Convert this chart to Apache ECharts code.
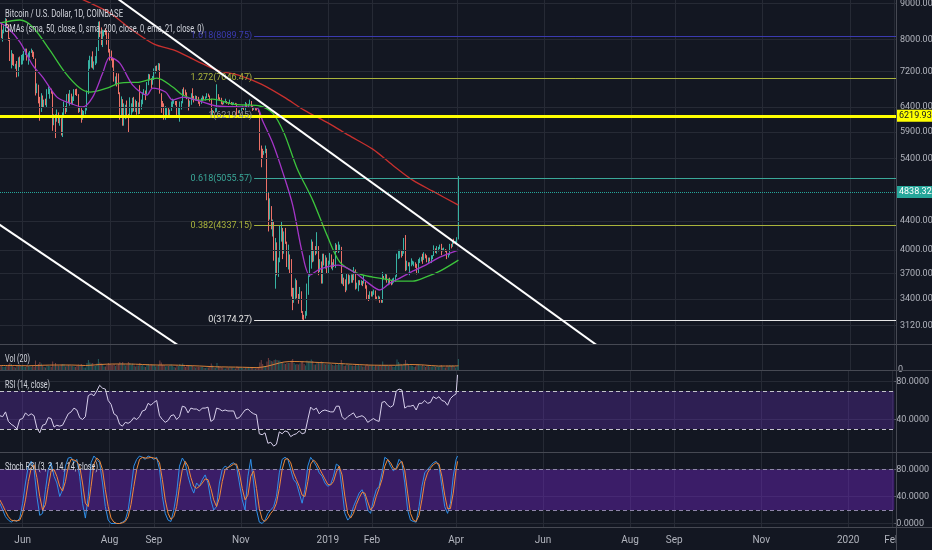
<!DOCTYPE html>
<html>
<head>
<meta charset="utf-8">
<script src="https://cdn.jsdelivr.net/npm/echarts@6.0.0/dist/echarts.min.js"></script>
<style>
html,body{margin:0;padding:0;background:#131722;overflow:hidden;}
#chart{width:932px;height:550px;}
</style>
</head>
<body>
<div id="chart"></div>
<script>
// ================= DATA =================
const startDate = '2018-05-16';   // first daily candle; one candle per day after it
const firstOpen = 8470;

const closes = [
 8350,8060,8240,8240,8520,8400,7990,7510,7590,7460,7350,7360,7120,7480,7390,7500,
 7530,7640,7720,7500,7620,7660,7690,7620,7510,6770,6880,6550,6310,6640,6400,6490,6450,6710,6740,6760,6720,6050,6170,6150,6250,6090,6140,5880,6200,6390,
 6360,6620,6510,6590,6530,6600,6760,6710,6670,6300,6380,6240,6240,6270,6350,6730,7320,7380,7470,7330,7400,7400,7720,8400,8170,7940,8190,8230,8210,8170,7730,
 7600,7530,7410,7010,7040,6940,6720,6280,6540,6150,6240,6320,6250,6190,6270,6310,6580,6390,6490,6260,6470,6360,6530,6690,6740,6700,6910,7080,7030,6980,7030,
 7190,7270,7260,7360,6700,6510,6410,6190,6250,6310,6280,6330,6490,6490,6520,6500,6250,6340,6390,6490,6760,6710,6700,6580,6430,6460,6680,6630,6600,6630,
 6590,6500,6480,6580,6630,6580,6600,6680,6650,6580,6250,6310,6300,6310,6640,6600,6570,6490,6470,6500,6510,6500,6480,6500,6470,6470,6480,6470,6300,6290,6320,
 6370,6400,6370,6470,6410,6450,6530,6420,6340,6380,6360,6350,6300,5620,5570,5500,5510,5580,4800,4450,4600,4300,4350,3930,4000,3750,3860,4250,4270,3970,
 4200,4100,3830,3920,3720,3440,3360,3420,3560,3440,3390,3490,3260,3200,3190,3220,3520,3670,3760,4100,3860,4000,3950,4040,3760,3830,3600,3880,3800,3900,3740,
 3840,3940,3780,3820,3790,4040,3990,4000,4010,3630,3630,3610,3500,3660,3580,3640,3680,3620,3720,3560,3560,3600,3580,3600,3590,3590,3550,3440,3410,3470,3440,
 3470,3500,3410,3400,3420,3380,3370,3660,3650,3690,3600,3610,3590,3570,3590,3620,3670,3910,3920,3990,3930,3980,4140,3740,3830,3810,3820,3820,
 3830,3840,3800,3710,3860,3870,3880,3870,3950,3930,3870,3890,3870,3880,3920,4020,3990,3990,4030,4060,3990,4000,4010,3990,3920,3940,4070,4050,4120,4110,4110,
 4150,4838.32
];
const highs = [
 8480,8460,8260,8380,8580,8560,8400,8040,7720,7640,7620,7380,7450,7540,7560,7600,
 7620,7700,7760,7760,7660,7700,7760,7720,7680,7510,6920,6890,6620,6700,6650,6560,6580,6790,6850,6800,6800,6730,6250,6250,6350,6290,6190,6170,6290,6520,
 6420,6680,6690,6770,6690,6630,6790,6790,6800,6680,6400,6380,6340,6320,6400,6760,7470,7580,7560,7690,7440,7570,7800,8480,8490,8320,8260,8240,8300,8250,8180,
 7750,7710,7530,7500,7080,7160,7150,6720,6630,6570,6480,6450,6540,6260,6610,6480,6600,6620,6560,6530,6500,6880,6560,6720,6790,6760,6950,7140,7130,7040,7090,
 7270,7330,7340,7400,7390,6700,6530,6480,6420,6380,6400,6350,6520,6580,6560,6530,6530,6400,6520,6530,6790,6830,6780,6720,6580,6540,6700,6810,6640,6650,
 6640,6620,6520,6600,6650,6630,6630,6700,6690,6650,6580,6340,6320,6380,6900,6680,6610,6600,6500,6520,6580,6530,6500,6560,6510,6500,6500,6490,6480,6330,6340,
 6390,6430,6400,6510,6480,6470,6560,6530,6430,6400,6390,6380,6360,6310,5640,5580,5540,5640,5580,4840,4740,4620,4420,4390,4160,4100,3900,4340,4400,4300,
 4250,4300,4110,4070,3940,3880,3530,3530,3640,3620,3460,3540,3490,3270,3230,3270,3580,3680,3930,4140,4110,4000,4050,4240,4050,3880,3850,3950,3950,3930,3900,
 3860,3960,3940,3840,3880,4090,4070,4110,4070,4040,3700,3650,3630,3700,3690,3680,3690,3690,3780,3750,3590,3620,3620,3620,3610,3680,3600,3560,3450,3490,3490,
 3490,3510,3500,3430,3440,3430,3400,3720,3670,3700,3690,3640,3650,3610,3640,3650,3680,3950,4000,4000,4000,3990,4160,4200,3860,3840,3840,3890,
 3860,3850,3840,3820,3880,3900,3910,3950,3970,3950,3930,3900,3900,3930,3930,4060,4020,4050,4040,4070,4080,4020,4030,4010,4000,3950,4080,4080,4130,4150,4120,
 4170,5100
];
const lows = [
 8150,8030,7940,8160,8200,8330,7960,7450,7270,7350,7330,7260,7060,7080,7300,7360,
 7370,7460,7600,7460,7360,7530,7650,7550,7500,6650,6700,6480,6120,6300,6380,6400,6440,6400,6680,6580,6690,5920,6030,5780,6100,6070,6020,5830,5800,6190,
 6260,6300,6480,6430,6460,6450,6530,6660,6640,6280,6300,6080,6140,6190,6250,6330,6680,7260,7290,7270,7240,7350,7390,7700,8060,7850,7800,8080,8120,7860,7660,
 7460,7460,7290,6960,6880,6850,6680,6140,6220,6020,6020,6150,6170,5880,6180,6240,6290,6310,6300,6240,6250,6260,6350,6460,6670,6550,6670,6880,6990,6810,6890,
 7000,7150,7200,7230,6690,6280,6380,6140,6140,6230,6200,6180,6320,6400,6470,6440,6210,6240,6100,6350,6480,6650,6650,6570,6330,6410,6450,6550,6500,6540,
 6540,6470,6420,6470,6530,6560,6540,6590,6620,6520,6180,6230,6280,6290,6300,6560,6530,6460,6450,6460,6490,6470,6450,6470,6450,6440,6460,6460,6240,6270,6270,
 6320,6360,6340,6330,6400,6400,6450,6400,6320,6340,6330,6330,6290,5550,5250,5400,5470,5500,4710,4250,4420,4280,4180,3860,3520,3680,3660,3840,4110,3880,
 3950,4080,3780,3750,3700,3430,3280,3360,3400,3410,3350,3390,3250,3180,3174,3190,3220,3450,3660,3760,3840,3850,3930,3950,3680,3720,3580,3580,3800,3760,3700,
 3700,3810,3760,3740,3780,3770,3970,3960,3980,3580,3570,3550,3480,3500,3570,3580,3590,3590,3620,3510,3520,3490,3560,3560,3550,3580,3520,3400,3380,3400,3430,
 3430,3450,3390,3390,3390,3360,3360,3360,3630,3620,3590,3560,3570,3560,3570,3590,3600,3660,3880,3890,3900,3920,3950,3730,3740,3790,3680,3790,
 3810,3790,3770,3690,3700,3830,3850,3820,3870,3890,3840,3820,3850,3830,3880,3920,3960,3950,3980,4010,3930,3980,3990,3970,3880,3900,3930,4020,4040,4080,4090,
 4090,4140
];
// daily volume (thousand BTC)
const volumes = [
 9,10,7,6,7,8,11,14,12,9,6,5,9,10,9,8,
 8,6,6,8,8,7,6,8,6,19,9,12,16,13,10,6,5,9,8,8,6,17,8,14,9,9,8,11,12,12,
 7,9,10,9,9,8,7,6,8,11,8,12,8,5,5,14,20,15,13,14,8,8,13,22,15,13,11,7,7,10,14,
 12,10,10,12,8,10,12,16,14,16,12,9,11,16,14,10,13,9,7,9,9,14,9,10,7,6,11,12,10,11,10,
 10,7,8,10,19,15,10,10,7,8,8,9,11,8,6,5,9,8,12,8,13,9,6,8,9,8,8,9,6,5,
 6,6,6,6,6,4,4,5,5,6,13,9,4,4,14,8,6,6,5,3,3,5,5,5,5,5,3,3,7,6,5,
 5,4,3,4,4,5,6,5,5,3,3,4,5,15,20,12,8,8,17,24,20,18,17,20,21,20,19,19,16,15,
 13,12,14,14,14,19,22,14,11,12,11,13,16,17,12,9,19,17,18,21,18,11,11,16,15,14,17,16,12,11,12,
 11,12,12,10,9,12,10,14,11,20,13,8,9,12,10,11,9,9,8,12,9,11,9,9,7,7,9,12,9,10,9,
 9,7,9,8,8,10,9,17,10,9,10,9,9,8,7,6,9,21,16,13,11,10,13,20,14,10,9,9,
 8,6,7,11,11,9,8,10,8,6,8,8,7,7,7,8,6,8,7,8,10,7,5,5,9,7,10,8,10,8,5,
 8,22
];
const volMA = [['2018-05-16',9],['2018-05-26',9],['2018-06-05',8.5],['2018-06-15',9.5],['2018-06-25',10],['2018-07-05',10],['2018-07-15',9],['2018-07-25',11],['2018-08-04',12],['2018-08-14',12],['2018-08-24',11],['2018-09-03',10],['2018-09-13',10],['2018-09-23',9],['2018-10-03',8],['2018-10-13',6.5],['2018-10-23',6],['2018-11-02',5.5],['2018-11-12',4.8],['2018-11-19',7.5],['2018-11-25',12],['2018-12-01',16],['2018-12-08',17],['2018-12-15',16.5],['2018-12-22',15.5],['2018-12-29',14.5],['2019-01-08',13],['2019-01-18',11.5],['2019-01-28',10],['2019-02-07',9.5],['2019-02-17',9.5],['2019-02-27',11],['2019-03-09',10],['2019-03-19',8],['2019-03-29',8],['2019-04-02',8.5]];

// moving averages
const sma50 = [['2018-05-16',8443],['2018-05-30',8527],['2018-06-08',8333],['2018-06-20',7722],['2018-07-01',7159],['2018-07-11',6815],['2018-07-18',6726],['2018-07-30',6815],['2018-08-08',6928],['2018-08-22',6951],['2018-09-03',7043],['2018-09-14',6838],['2018-09-21',6660],['2018-10-03',6551],['2018-10-12',6573],['2018-10-26',6466],['2018-11-04',6445],['2018-11-14',6424],['2018-11-23',6276],['2018-12-01',5874],['2018-12-10',5235],['2018-12-21',4712],['2018-12-31',4199],['2019-01-09',3842],['2019-01-21',3705],['2019-02-01',3657],['2019-02-10',3633],['2019-02-18',3609],['2019-03-01',3609],['2019-03-10',3657],['2019-03-20',3729],['2019-04-02',3867]];
const sma200 = [['2018-06-10',9800],['2018-07-01',9370],['2018-07-15',9080],['2018-08-01',8727],['2018-08-15',8300],['2018-09-01',7876],['2018-09-15',7722],['2018-10-01',7447],['2018-10-15',7230],['2018-11-01',7090],['2018-11-15',6904],['2018-12-01',6615],['2018-12-15',6338],['2019-01-01',6071],['2019-01-15',5836],['2019-02-01',5573],['2019-02-15',5287],['2019-03-01',5032],['2019-03-15',4853],['2019-04-02',4635]];
const ema21 = [['2018-05-16',8450],['2018-05-21',8333],['2018-05-30',7935],['2018-06-08',7349],['2018-06-15',7065],['2018-06-25',6615],['2018-07-04',6487],['2018-07-13',6403],['2018-07-20',6615],['2018-07-27',7159],['2018-08-01',7546],['2018-08-08',7398],['2018-08-17',6882],['2018-08-27',6660],['2018-08-31',6815],['2018-09-09',6726],['2018-09-14',6551],['2018-09-21',6615],['2018-10-03',6529],['2018-10-15',6424],['2018-11-02',6403],['2018-11-12',6382],['2018-11-16',6114],['2018-11-23',5685],['2018-11-30',5167],['2018-12-07',4635],['2018-12-14',3933],['2018-12-19',3681],['2018-12-26',3755],['2019-01-08',3804],['2019-01-20',3705],['2019-01-29',3585],['2019-02-06',3505],['2019-02-13',3585],['2019-02-20',3645],['2019-03-01',3729],['2019-03-10',3804],['2019-03-20',3906],['2019-04-02',3998]];

// oscillators, one reading every second candle (plus the last candle)
const rsiValues = [
 44,43,48,38,35,33,30,40,41,47, 44,46,44,31,26,34,35,42,41,32, 34,33,34,40,46,48,52,50,42,40, 43,65,67,65,70,76,73,72,60,56,
 46,44,35,33,37,36,38,42,40,43, 49,50,57,55,58,60,44,40,37,39, 44,45,40,43,54,53,47,52,51,51, 49,52,52,53,38,40,52,51,49,50,
 49,49,49,41,42,46,50,51,48,46, 45,25,24,26,15,16,12,14,27,25, 28,27,22,24,25,28,25,26,40,53, 50,52,46,49,50,49,48,48,54,54,
 43,40,43,45,47,42,43,44,42,37, 39,41,39,38,58,59,55,53,55,70, 72,71,52,54,54,55,50,57,57,60, 57,58,64,62,64,60,59,55,62,65,
 67,87
];
const stochK = [
 30,20,10,5,2,5,3,8,30,60, 85,92,80,40,12,15,50,80,90,70, 60,40,50,85,97,98,90,95,70,30, 8,40,90,100,95,90,60,25,5,0,
 0,0,0,2,5,20,50,85,95,100, 98,95,100,98,95,98,80,40,15,5, 3,20,45,85,97,90,70,55,45,60, 55,65,72,60,35,20,25,60,80,85,
 82,88,90,85,60,35,20,70,95,60, 20,2,0,5,15,20,25,40,75,95, 98,95,80,65,60,45,30,50,85,98, 92,85,75,70,60,55,58,70,88,85,
 50,15,5,10,25,35,45,50,40,20, 15,35,50,55,75,98,95,85,78,82, 95,90,60,20,5,3,2,25,55,75, 80,85,90,92,85,55,25,15,30,70,
 95,100
];
const stochD = [
 35,27,18,10,5,4,4,5,15,35, 62,82,87,68,40,20,28,55,78,80, 70,55,48,62,85,95,94,92,85,60, 30,25,55,88,97,93,80,50,25,8,
 2,0,0,1,3,10,28,55,80,95, 98,97,97,98,97,96,90,65,35,15, 6,10,25,55,80,92,85,68,55,52, 55,60,66,65,52,35,25,38,62,80,
 83,85,88,88,75,52,35,42,70,78, 52,22,6,3,8,15,20,30,52,80, 95,96,90,75,65,55,42,40,62,88, 94,90,82,74,66,58,57,62,76,85,
 72,40,15,8,15,28,38,46,45,32, 20,25,40,52,65,85,95,90,82,80, 88,92,78,45,15,5,3,12,35,62, 75,82,87,90,88,70,42,22,22,45,
 80,92
];

// drawings
const upperTrend = [['2018-07-29', 9414], ['2019-07-17', 2833]];
const lowerTrend = [['2018-05-09', 4441], ['2018-09-26', 2847]];
const fibStart = '2018-11-10';
const fibLevels = ['1.618', '1.272', '1', '0.618', '0.382', '0'];
const fibPrices = [8089.75, 7046.47, 6219.45, 5055.57, 4337.15, 3174.27];
const horizLevel = 6219.93;
const lastPrice = 4838.32;

// axis ticks / labels
const priceTicks = [3120, 3400, 3700, 4000, 4400, 5400, 5900, 6400, 7200, 8000, 9000];
const xTickDates = ['2018-06-01','2018-08-01','2018-09-01','2018-11-01','2019-01-01','2019-02-01','2019-04-01','2019-06-01','2019-08-01','2019-09-01','2019-11-01','2020-01-01','2020-02-01'];
const xTickLabels = ['Jun','Aug','Sep','Nov','2019','Feb','Apr','Jun','Aug','Sep','Nov','2020','Feb'];
const rsiTicks = [40, 80];
const stochTicks = [0, 40, 80];

// ================= CHART =================
const FONT = 'Roboto';
const BG = '#131722', GRIDC = '#262a35', SEP = '#464953', TXT = '#b2b5be';
const UP = '#37b2a3', DOWN = '#ec7167';

const utc = s => { const p = s.split('-').map(Number); return Date.UTC(p[0], p[1] - 1, p[2]); };
const DAY = 864e5;
const t0 = utc(startDate);
const dates = closes.map((_, i) => t0 + i * DAY);
const xMin = t0 + 3 * 3600e3;
const xMax = utc('2020-02-02') + 7 * 3600e3;
const openOf = i => (i === 0 ? firstOpen : closes[i - 1]);

const candleData = dates.map((t, i) => [t, openOf(i), closes[i], lows[i], highs[i]]);
const volData = dates.map((t, i) => ({ value: [t, volumes[i]], itemStyle: { color: closes[i] >= openOf(i) ? 'rgba(55,178,163,0.45)' : 'rgba(236,113,103,0.45)' } }));
const sampleIdx = i => Math.min(2 * i, dates.length - 1);
const rsiData = rsiValues.map((v, i) => [dates[sampleIdx(i)], v]);
const kData = stochK.map((v, i) => [dates[sampleIdx(i)], v]);
const dData = stochD.map((v, i) => [dates[sampleIdx(i)], v]);
const toXY = arr => arr.map(p => [utc(p[0]), p[1]]);

const xTicks = xTickDates.map(utc);
const xLabelMap = {}; xTicks.forEach((t, i) => { xLabelMap[t] = xTickLabels[i]; });

const gridDefs = [
  { left: 0, right: 36, top: 0, height: 344 },
  { left: 0, right: 36, top: 345, height: 25 },
  { left: 0, right: 36, top: 371, height: 81 },
  { left: 0, right: 36, top: 453, height: 74 }
];

// x axes: numeric axes over UTC timestamps (one unit = 1 ms)
function xAx(i, showLabels) {
  return {
    type: 'value', gridIndex: i, min: xMin, max: xMax,
    axisLine: { show: false },
    axisTick: { show: false, customValues: xTicks },
    axisLabel: { show: showLabels, customValues: xTicks, formatter: v => xLabelMap[v] || '', color: TXT, fontSize: 10, fontFamily: FONT, margin: 8 },
    splitLine: { show: true, lineStyle: { color: GRIDC, width: 1 } }
  };
}
function yVal(i, min, max, ticks, digits, showSplit) {
  return {
    type: 'value', gridIndex: i, position: 'right', min: min, max: max,
    axisLine: { show: false },
    axisTick: { show: true, inside: false, length: 2, customValues: ticks, lineStyle: { color: '#5d606b' } },
    axisLabel: { customValues: ticks, formatter: v => v.toFixed(digits), color: TXT, fontSize: 9, fontFamily: FONT, margin: 2 },
    splitLine: { show: showSplit, lineStyle: { color: GRIDC } }
  };
}

const fibColors = ['#3b3bb0', '#aab43c', '#8d909a', '#3aa899', '#aab43c', '#e6e6e6'];
const fibMarks = fibPrices.map((p, i) => [
  { coord: [utc(fibStart), p], lineStyle: { color: fibColors[i], width: 1, type: 'solid' },
    label: { show: true, position: 'start', formatter: fibLevels[i] + '(' + p.toFixed(2) + ')', color: fibColors[i], fontSize: 9, fontFamily: FONT, distance: 2 } },
  { coord: [xMax, p] }
]);

const series = [
  { // price grid lines + labels
    type: 'line', xAxisIndex: 0, yAxisIndex: 0, data: [], z: 1, silent: true,
    markLine: { symbol: ['none', 'none'], silent: true, animation: false,
      lineStyle: { color: GRIDC, width: 1, type: 'solid' },
      label: { show: true, position: 'end', distance: 4, color: TXT, fontSize: 9, fontFamily: FONT },
      data: priceTicks.map(v => ({ yAxis: v, label: { formatter: v.toFixed(2) } })) }
  },
  { // fibonacci levels
    type: 'line', xAxisIndex: 0, yAxisIndex: 0, data: [], z: 2, silent: true,
    markLine: { symbol: ['none', 'none'], silent: true, animation: false, data: fibMarks }
  },
  {
    type: 'candlestick', xAxisIndex: 0, yAxisIndex: 0, data: candleData, z: 3, barWidth: 1,
    itemStyle: { color: UP, color0: DOWN, borderColor: UP, borderColor0: DOWN, borderWidth: 1 }
  },
  { type: 'line', xAxisIndex: 0, yAxisIndex: 0, data: toXY(sma200), z: 4, symbol: 'none', smooth: 0.3, lineStyle: { color: '#c8302e', width: 1.3 } },
  { type: 'line', xAxisIndex: 0, yAxisIndex: 0, data: toXY(sma50), z: 4, symbol: 'none', smooth: 0.3, lineStyle: { color: '#3cc43c', width: 1.3 } },
  { type: 'line', xAxisIndex: 0, yAxisIndex: 0, data: toXY(ema21), z: 4, symbol: 'none', smooth: 0.3, lineStyle: { color: '#a535c8', width: 1.3 } },
  { type: 'line', xAxisIndex: 0, yAxisIndex: 0, data: toXY(upperTrend), z: 5, symbol: 'none', lineStyle: { color: '#ffffff', width: 2 } },
  { type: 'line', xAxisIndex: 0, yAxisIndex: 0, data: toXY(lowerTrend), z: 5, symbol: 'none', lineStyle: { color: '#ffffff', width: 2 } },
  { // horizontal level + last price
    type: 'line', xAxisIndex: 0, yAxisIndex: 0, data: [], z: 6, silent: true,
    markLine: { symbol: ['none', 'none'], silent: true, animation: false,
      data: [
        { yAxis: horizLevel, lineStyle: { color: '#ffff00', width: 3, type: 'solid' },
          label: { show: true, position: 'end', distance: 1, formatter: horizLevel.toFixed(2), backgroundColor: '#ffff00', color: '#131722', padding: [2, 1, 1, 2], fontSize: 9, fontFamily: FONT } },
        { yAxis: lastPrice, lineStyle: { color: '#26a69a', width: 1, type: 'dotted' },
          label: { show: true, position: 'end', distance: 1, formatter: lastPrice.toFixed(2), backgroundColor: '#26a69a', color: '#ffffff', padding: [2, 1, 1, 2], fontSize: 9, fontFamily: FONT } }
      ] }
  },
  { type: 'bar', xAxisIndex: 1, yAxisIndex: 1, data: volData, barWidth: 1, z: 2 },
  { type: 'line', xAxisIndex: 1, yAxisIndex: 1, data: toXY(volMA), z: 3, symbol: 'none', smooth: 0.3, lineStyle: { color: '#d9823b', width: 1 } },
  { // RSI band
    type: 'line', xAxisIndex: 2, yAxisIndex: 2, data: [], z: 1, silent: true,
    markArea: { silent: true, itemStyle: { color: 'rgba(110,50,200,0.30)' }, data: [[{ yAxis: 30 }, { yAxis: 70 }]] },
    markLine: { symbol: ['none', 'none'], silent: true, label: { show: false }, lineStyle: { color: '#c4c4cc', type: [4, 3], width: 1 }, data: [{ yAxis: 70 }, { yAxis: 30 }] }
  },
  { type: 'line', xAxisIndex: 2, yAxisIndex: 2, data: rsiData, z: 3, symbol: 'none', lineStyle: { color: '#d8d0ec', width: 1 } },
  { // Stoch band
    type: 'line', xAxisIndex: 3, yAxisIndex: 3, data: [], z: 1, silent: true,
    markArea: { silent: true, itemStyle: { color: 'rgba(120,40,210,0.40)' }, data: [[{ yAxis: 20 }, { yAxis: 80 }]] },
    markLine: { symbol: ['none', 'none'], silent: true, label: { show: false }, lineStyle: { color: '#8f86aa', type: [4, 3], width: 1 }, data: [{ yAxis: 80 }, { yAxis: 20 }] }
  },
  { type: 'line', xAxisIndex: 3, yAxisIndex: 3, data: kData, z: 3, symbol: 'none', lineStyle: { color: '#2f8fe8', width: 1 } },
  { type: 'line', xAxisIndex: 3, yAxisIndex: 3, data: dData, z: 3, symbol: 'none', lineStyle: { color: '#f08a3c', width: 1 } }
];

// legend texts squeezed to the width they take in the reference
function measure(txt, font) { const c = document.createElement('canvas').getContext('2d'); c.font = font; return c.measureText(txt).width; }
const legendItems = [
  { text: 'Bitcoin / U.S. Dollar, 1D, COINBASE', x: 5, y: 14, w: 118, size: 11 },
  { text: '3MAs (sma, 50, close, 0, sma, 200, close, 0, ema, 21, close, 0)', x: 5, y: 29, w: 199, size: 10.5 },
  { text: 'Vol (20)', x: 5, y: 359, w: 25, size: 10.5 },
  { text: 'RSI (14, close)', x: 5, y: 385, w: 45, size: 10.5 },
  { text: 'Stoch RSI (3, 3, 14, 14, close)', x: 5, y: 467, w: 93, size: 10.5 }
];
const graphics = legendItems.map(it => {
  const font = it.size + 'px Roboto';
  return { type: 'text', x: it.x, y: it.y, scaleX: it.w / measure(it.text, font), z: 100, silent: true,
    style: { text: it.text, font: font, fill: '#d1d4dc', textVerticalAlign: 'middle' } };
});
[344.5, 370.5, 452.5, 527.5].forEach(y => graphics.push({ type: 'line', silent: true, z: 60, shape: { x1: 0, y1: y, x2: 932, y2: y }, style: { stroke: SEP, lineWidth: 1 } }));
graphics.push({ type: 'rect', silent: true, z: 59, shape: { x: 897, y: 528, width: 35, height: 22 }, style: { fill: BG } });
graphics.push({ type: 'line', silent: true, z: 61, shape: { x1: 896.5, y1: 0, x2: 896.5, y2: 550 }, style: { stroke: SEP, lineWidth: 1 } });

const chart = echarts.init(document.getElementById('chart'), null, { renderer: 'canvas' });
chart.setOption({
  backgroundColor: BG,
  animation: false,
  textStyle: { fontFamily: FONT },
  grid: gridDefs,
  xAxis: [xAx(0, false), xAx(1, false), xAx(2, false), xAx(3, true)],
  yAxis: [
    { type: 'log', logBase: 10, gridIndex: 0, position: 'right', min: 2934, max: 9107,
      axisLine: { show: false }, axisTick: { show: false }, axisLabel: { show: false }, splitLine: { show: false } },
    yVal(1, 0, 50, [0], 0, false),
    yVal(2, 5.8, 91.05, rsiTicks, 4, true),
    yVal(3, -5.2, 104.4, stochTicks, 4, true)
  ],
  series: series,
  graphic: graphics
});
</script>
</body>
</html>
